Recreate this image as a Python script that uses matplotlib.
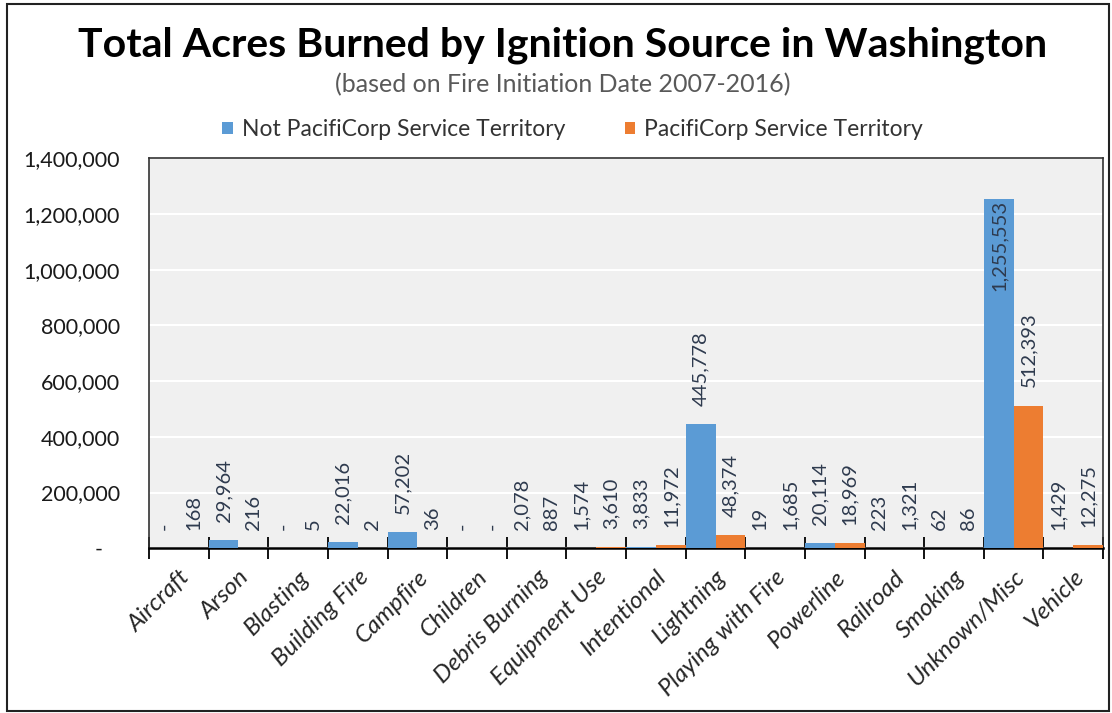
import matplotlib
matplotlib.use('Agg')
import matplotlib.pyplot as plt
from matplotlib.patches import Rectangle
from matplotlib.ticker import FuncFormatter
import numpy as np

plt.rcParams['font.family'] = ['Lato', 'DejaVu Sans']

categories = ['Aircraft', 'Arson', 'Blasting', 'Building Fire', 'Campfire', 'Children',
              'Debris Burning', 'Equipment Use', 'Intentional', 'Lightning',
              'Playing with Fire', 'Powerline', 'Railroad', 'Smoking', 'Unknown/Misc', 'Vehicle']
not_pacificorp = [0, 29964, 0, 22016, 57202, 0, 2078, 1574, 3833, 445778,
                  19, 20114, 223, 62, 1255553, 1429]
pacificorp = [168, 216, 5, 2, 36, 0, 887, 3610, 11972, 48374,
              1685, 18969, 1321, 86, 512393, 12275]
series_names = ['Not PacifiCorp Service Territory', 'PacifiCorp Service Territory']

blue = '#5b9bd5'
orange = '#ed7d31'
label_col = '#2e3a4e'

fig = plt.figure(figsize=(11.12, 7.13), dpi=100)
ax = fig.add_axes([0.134, 0.231, 0.858, 0.547])
ax.set_facecolor('#f0f0f0')

x = np.arange(len(categories))
w = 0.5
b1 = ax.bar(x - w/2, not_pacificorp, w, color=blue, label=series_names[0], zorder=3)
b2 = ax.bar(x + w/2, pacificorp, w, color=orange, label=series_names[1], zorder=3)

ymax = 1400000
ax.set_ylim(0, ymax)
ax.set_xlim(-0.5, len(categories) - 0.5)
ax.set_yticks(np.arange(0, ymax + 1, 200000))
ax.yaxis.set_major_formatter(FuncFormatter(lambda v, p: '-   ' if v == 0 else f'{int(v):,}'))
ax.yaxis.grid(True, color='white', lw=1.5, zorder=1)
ax.set_axisbelow(True)
ax.tick_params(axis='y', length=0, labelsize=15.5, colors='#1a1a1a', pad=21)

ax.set_xticks(x)
ax.set_xticklabels(categories, rotation=45, ha='right', rotation_mode='anchor',
                   fontsize=17.5, style='italic', color='#262626')
ax.tick_params(axis='x', length=0, pad=13)
ax.set_xticks(np.arange(-0.5, len(categories), 1), minor=True)
ax.tick_params(axis='x', which='minor', length=16, direction='inout', width=1.3, color='black')

for s in ['top', 'left', 'right']:
    ax.spines[s].set_color('#333333')
    ax.spines[s].set_linewidth(1.2)
ax.spines['bottom'].set_color('black')
ax.spines['bottom'].set_linewidth(1.8)

# data labels
for bars, vals in [(b1, not_pacificorp), (b2, pacificorp)]:
    for rect, v in zip(bars, vals):
        cx = rect.get_x() + rect.get_width() / 2
        txt = '-' if v == 0 else f'{v:,}'
        if v > 0.85 * ymax:
            ax.annotate(txt, (cx, v), xytext=(0, -1), textcoords='offset points',
                        rotation=90, ha='center', va='top', fontsize=14.5, color=label_col, zorder=4)
        else:
            ax.annotate(txt, (cx, v), xytext=(0, 13), textcoords='offset points',
                        rotation=90, ha='center', va='bottom', fontsize=14.5, color=label_col, zorder=4)

fig.text(0.506, 0.937, 'Total Acres Burned by Ignition Source in Washington',
         ha='center', va='center', fontsize=29.5, fontweight='bold', color='black')
fig.text(0.506, 0.881, '(based on Fire Initiation Date 2007-2016)',
         ha='center', va='center', fontsize=18, color='#595959')

fig.legend(handles=[b1, b2], loc='center', bbox_to_anchor=(0.515, 0.818), ncol=2,
           frameon=False, fontsize=16.5, handlelength=0.45, handleheight=0.45,
           handletextpad=0.4, columnspacing=2.6, labelcolor='#333333')

fig.patches.append(Rectangle((0.006, 0.003), 0.991, 0.992, transform=fig.transFigure,
                             fill=False, edgecolor='#222222', lw=1.5))

fig.savefig('out.png', dpi=100, facecolor='white')
